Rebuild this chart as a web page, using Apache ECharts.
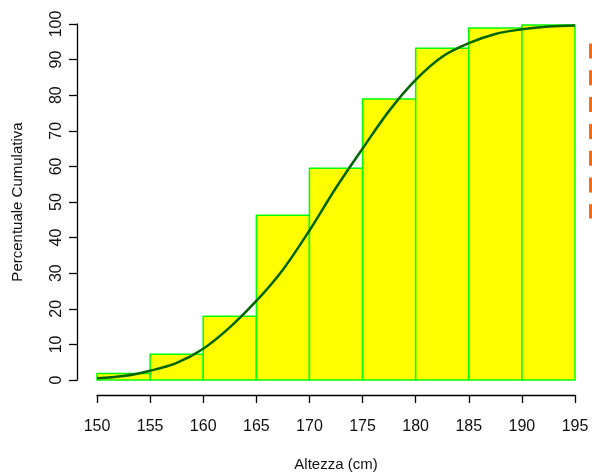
<!DOCTYPE html>
<html>
<head>
<meta charset="utf-8">
<script src="https://cdn.jsdelivr.net/npm/echarts@6/dist/echarts.min.js"></script>
<style>html,body{margin:0;padding:0;background:#fff}#c{width:592px;height:473px}</style>
</head>
<body>
<div id="c"></div>
<script>
// Histogram classes (cm) and cumulative percentage
var binStarts = [150, 155, 160, 165, 170, 175, 180, 185, 190];
var binEnds   = [155, 160, 165, 170, 175, 180, 185, 190, 195];
var cumPct    = [1.8, 7.2, 17.9, 46.3, 59.5, 78.9, 93.2, 98.9, 99.7];

// Smooth cumulative curve
var curveX = [150, 152.5, 155, 157.5, 160, 162.5, 165, 167.5, 170, 172.5, 175, 177.5, 180, 182.5, 185, 187.5, 190, 192.5, 195];
var curveY = [0.5, 1.1, 2.6, 4.8, 8.8, 14.8, 22.2, 31.0, 42.0, 54.0, 65.0, 75.6, 84.3, 90.8, 94.6, 97.2, 98.5, 99.3, 99.6];

var xTicks = [150, 155, 160, 165, 170, 175, 180, 185, 190, 195];
var yTicks = [0, 10, 20, 30, 40, 50, 60, 70, 80, 90, 100];

var font = '"Liberation Sans", Arial, Helvetica, sans-serif';
var bars = binStarts.map(function (s, i) { return [s, binEnds[i], cumPct[i]]; });
var curve = curveX.map(function (x, i) { return [x, curveY[i]]; });

var chart = echarts.init(document.getElementById('c'), null, {renderer: 'canvas'});
chart.setOption({
  animation: false,
  backgroundColor: '#fff',
  grid: {left: 97, right: 17, top: 24, bottom: 93, containLabel: false, outerBoundsMode: 'none'},
  xAxis: {
    type: 'value', min: xTicks[0], max: xTicks[xTicks.length - 1], interval: 5,
    offset: 15,
    name: 'Altezza (cm)', nameLocation: 'middle', nameGap: 62,
    nameTextStyle: {fontFamily: font, fontSize: 15, color: '#111'},
    axisLine: {show: true, onZero: false, lineStyle: {color: '#000', width: 1.3}},
    axisTick: {show: true, length: 8, lineStyle: {color: '#000', width: 1.3}},
    axisLabel: {fontFamily: font, fontSize: 16, color: '#111', margin: 24},
    splitLine: {show: false}
  },
  yAxis: {
    type: 'value', min: yTicks[0], max: yTicks[yTicks.length - 1], interval: 10,
    offset: 20,
    name: 'Percentuale Cumulativa', nameLocation: 'middle', nameGap: 52,
    nameTextStyle: {fontFamily: font, fontSize: 15, color: '#111'},
    axisLine: {show: true, onZero: false, lineStyle: {color: '#000', width: 1.3}},
    axisTick: {show: true, length: 8, lineStyle: {color: '#000', width: 1.3}},
    axisLabel: {fontFamily: font, fontSize: 16, color: '#111', rotate: 90, margin: 12},
    splitLine: {show: false}
  },
  series: [
    {
      type: 'custom',
      data: bars,
      renderItem: function (params, api) {
        var p0 = api.coord([api.value(0), api.value(2)]);
        var p1 = api.coord([api.value(1), 0]);
        return {
          type: 'rect',
          shape: {x: p0[0], y: p0[1], width: p1[0] - p0[0], height: p1[1] - p0[1]},
          style: {fill: '#ffff00', stroke: '#00ff00', lineWidth: 1.5}
        };
      },
      encode: {x: [0, 1], y: 2},
      z: 1
    },
    {
      type: 'line',
      data: curve,
      smooth: 0.35,
      showSymbol: false,
      lineStyle: {color: '#006400', width: 2.5},
      z: 3
    }
  ],
  graphic: [
    {
      type: 'polyline',
      shape: {points: [[590.5, 43.5], [590.5, 217], [592, 217]]},
      style: {stroke: '#f66a14', lineWidth: 3, lineDash: [15, 11.8], fill: null},
      z: 10
    }
  ]
});
</script>
</body>
</html>
